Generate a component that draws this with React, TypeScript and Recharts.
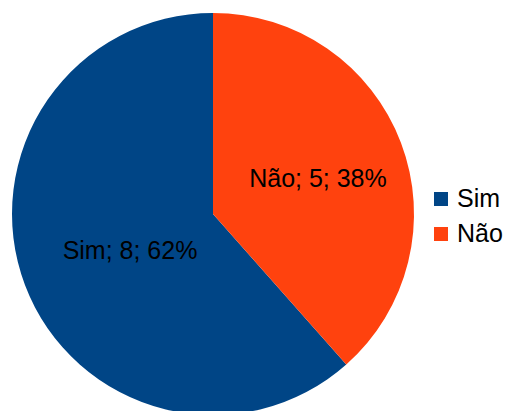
import React from 'react';
import { PieChart, Pie, Cell, Legend } from 'recharts';

const categories = ['Sim', 'Não'];
const values = [8, 5];
const colors = ['#004586', '#ff420e'];

const data = categories.map((name, i) => ({ name, value: values[i] }));
const total = values.reduce((a, b) => a + b, 0);

const RADIAN = Math.PI / 180;

const renderLabel = (props: any) => {
  const { cx, cy, midAngle, outerRadius, index } = props;
  const r = outerRadius * 0.5;
  // labels sit a little right of the plain mid-radius point
  const x = cx + r * Math.cos(-midAngle * RADIAN) + 11;
  const y = cy + r * Math.sin(-midAngle * RADIAN);
  const pct = Math.round((values[index] / total) * 100);
  return (
    <text
      x={x}
      y={y}
      fill="#000"
      textAnchor="middle"
      dominantBaseline="central"
      fontSize={25}
      fontFamily="'Liberation Sans', Arial, sans-serif"
    >
      {`${categories[index]}; ${values[index]}; ${pct}%`}
    </text>
  );
};

const renderLegend = () => (
  <div style={{ fontFamily: "'Liberation Sans', Arial, sans-serif", fontSize: 25, color: '#000', lineHeight: '35px' }}>
    {categories.map((c, i) => (
      <div key={c} style={{ display: 'flex', alignItems: 'center', height: 35 }}>
        <span style={{ width: 14, height: 14, background: colors[i], marginRight: 9, display: 'inline-block' }} />
        <span>{c}</span>
      </div>
    ))}
  </div>
);

export default function App() {
  return (
    <div style={{ width: 506, height: 411, background: '#fff', overflow: 'hidden' }}>
      <style>{'body { margin: 0; }'}</style>
      <PieChart width={506} height={411} margin={{ top: 0, right: 0, bottom: 0, left: 0 }}>
        <Pie
          data={data}
          dataKey="value"
          nameKey="name"
          cx={213}
          cy={214}
          outerRadius={201}
          startAngle={90}
          endAngle={450}
          stroke="none"
          label={renderLabel}
          labelLine={false}
          isAnimationActive={false}
        >
          {data.map((d, i) => (
            <Cell key={d.name} fill={colors[i]} />
          ))}
        </Pie>
        <Legend
          layout="vertical"
          align="right"
          verticalAlign="middle"
          content={renderLegend}
          wrapperStyle={{ left: 434, top: 181, width: 72 }}
        />
      </PieChart>
    </div>
  );
}
